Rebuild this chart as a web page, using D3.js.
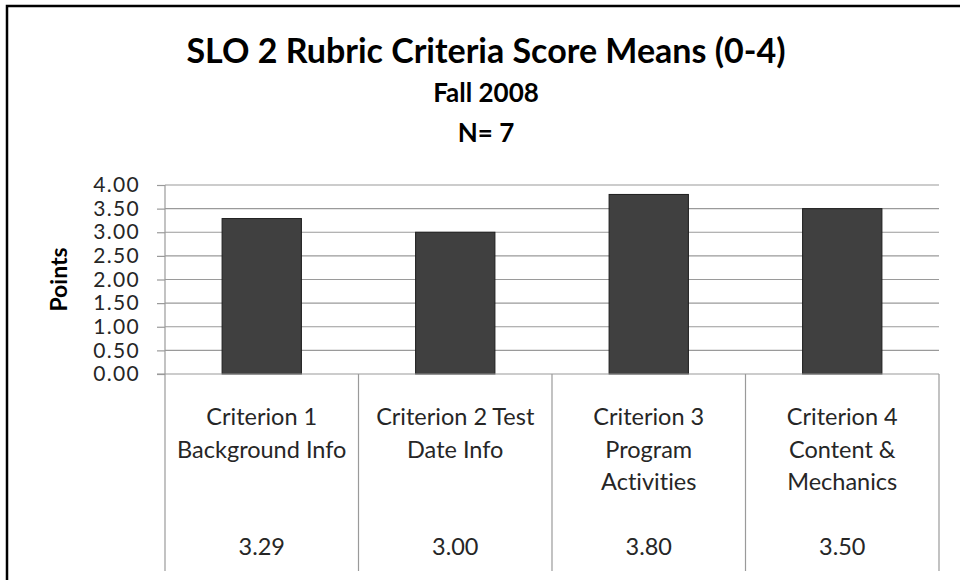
<!DOCTYPE html>
<html>
<head>
<meta charset="utf-8">
<script src="https://cdn.jsdelivr.net/npm/d3@7"></script>
<style>
  body { margin: 0; background: #fff; }
  svg { display: block; font-family: Lato, "Open Sans", sans-serif; font-variant-ligatures: none; }
</style>
</head>
<body>
<svg id="chart" width="960" height="580"></svg>
<script>
const titleLines = ["SLO 2 Rubric Criteria Score Means (0-4)", "Fall 2008", "N= 7"]
const categories = ["Criterion 1 Background Info", "Criterion 2 Test Date Info", "Criterion 3 Program Activities", "Criterion 4 Content & Mechanics"]
const means = [3.29, 3.00, 3.80, 3.50]
const yTicks = [0, 0.5, 1, 1.5, 2, 2.5, 3, 3.5, 4]
const yLabel = "Points"

const svg = d3.select("#chart")
const W = 960, H = 580

const plot = { left: 165, right: 939, top: 185, bottom: 374 }
const tableBottom = 571
const textColor = "#262626"
const gridColor = "#9a9a9a"
const tableFont = 23.5

// outer frame (cropped at right/bottom like the source)
svg.append("rect")
  .attr("x", 7).attr("y", 6)
  .attr("width", W + 20).attr("height", H + 20)
  .style("fill", "none")
  .style("stroke", "#000")
  .style("stroke-width", 2.5)

// titles
const titleY = [63, 102, 142]
const titleSize = [34, 26, 26]
svg.selectAll("text.title")
  .data(titleLines)
  .enter().append("text")
    .attr("class", "title")
    .attr("x", 486)
    .attr("y", (d, i) => titleY[i])
    .attr("text-anchor", "middle")
    .style("font-weight", "bold")
    .style("font-size", (d, i) => titleSize[i] + "px")
    .style("fill", "#000")
    .text(d => d)

const x = d3.scaleBand()
  .domain(categories)
  .range([plot.left, plot.right])
  .paddingInner(0.59)
  .paddingOuter(0.295)

const y = d3.scaleLinear()
  .domain([0, 4])
  .range([plot.bottom, plot.top])

// gridlines
svg.append("g")
  .selectAll("line")
  .data(yTicks.filter(t => t > 0))
  .enter().append("line")
    .attr("x1", plot.left).attr("x2", plot.right)
    .attr("y1", d => y(d)).attr("y2", d => y(d))
    .style("stroke", gridColor)
    .style("stroke-width", 1.2)

// y axis
const yAxis = svg.append("g")
  .attr("transform", `translate(${plot.left},0)`)
  .call(d3.axisLeft(y).tickValues(yTicks).tickFormat(d3.format(".2f")).tickSize(8).tickPadding(17))
yAxis.select(".domain").remove()
yAxis.selectAll(".tick line").style("stroke", gridColor).style("stroke-width", 1.2)
yAxis.selectAll(".tick text")
  .style("font-family", "Lato, sans-serif")
  .style("font-size", "21px")
  .style("letter-spacing", "1.3px")
  .style("fill", textColor)

svg.append("text")
  .attr("transform", `translate(67,${(plot.top + plot.bottom) / 2}) rotate(-90)`)
  .attr("text-anchor", "middle")
  .style("font-weight", "bold")
  .style("font-size", "23px")
  .style("fill", "#000")
  .text(yLabel)

// bars
svg.append("g")
  .selectAll("rect")
  .data(means)
  .enter().append("rect")
    .attr("x", (d, i) => x(categories[i]))
    .attr("y", d => y(d))
    .attr("width", x.bandwidth())
    .attr("height", d => y(0) - y(d))
    .style("fill", "#404040")
    .style("stroke", "#1e1e1e")
    .style("stroke-width", 1)

// data table lines
const step = x.step()
const colEdges = d3.range(categories.length + 1).map(i => plot.left + i * step)
svg.append("line")
  .attr("x1", plot.left - 8).attr("x2", plot.right)
  .attr("y1", y(0)).attr("y2", y(0))
  .style("stroke", gridColor).style("stroke-width", 1.2)
svg.append("g")
  .selectAll("line")
  .data(colEdges)
  .enter().append("line")
    .attr("x1", d => d).attr("x2", d => d)
    .attr("y1", (d, i) => i === 0 ? plot.top : y(0))
    .attr("y2", tableBottom)
    .style("stroke", gridColor).style("stroke-width", 1.2)

// wrap category names into the column
function wrapLines(str, maxW, measure) {
  const words = str.split(" ")
  const lines = []
  let cur = words[0]
  for (let k = 1; k < words.length; k++) {
    const test = cur + " " + words[k]
    if (measure(test) <= maxW) cur = test
    else { lines.push(cur); cur = words[k] }
  }
  lines.push(cur)
  return lines
}

const probe = svg.append("text").style("font-size", tableFont + "px")
const measure = s => { probe.text(s); return probe.node().getComputedTextLength() }

const labelG = svg.append("g")
categories.forEach((c, i) => {
  const cx = plot.left + (i + 0.5) * step
  const lines = wrapLines(c, step - 18, measure)
  const t = labelG.append("text")
    .attr("text-anchor", "middle")
    .style("font-size", tableFont + "px")
    .style("fill", textColor)
  lines.forEach((ln, j) => {
    t.append("tspan").attr("x", cx).attr("y", 425 + j * 32.5).text(ln)
  })
  labelG.append("text")
    .attr("x", cx).attr("y", 555)
    .attr("text-anchor", "middle")
    .style("font-size", tableFont + "px")
    .style("fill", textColor)
    .text(d3.format(".2f")(means[i]))
})
probe.remove()
</script>
</body>
</html>
